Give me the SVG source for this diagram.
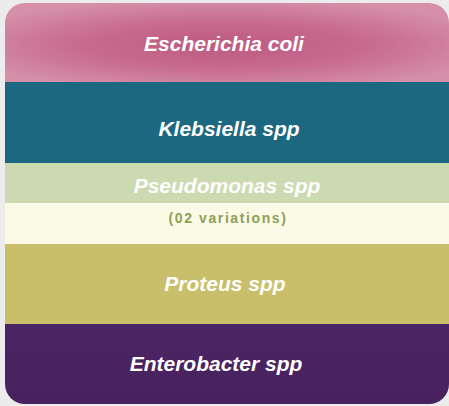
<svg xmlns="http://www.w3.org/2000/svg" width="449" height="406" viewBox="0 0 449 406">
<defs>
<clipPath id="card"><rect x="5" y="3" width="444" height="401" rx="20" ry="20"/></clipPath>
<radialGradient id="pink" cx="0.5" cy="0.55" r="0.62" gradientTransform="translate(0.5 0.55) scale(1 0.9) translate(-0.5 -0.55)">
<stop offset="0" stop-color="#bd5a80"/>
<stop offset="0.5" stop-color="#c76a8e"/>
<stop offset="1" stop-color="#d58fa9"/>
</radialGradient>
<linearGradient id="purp" x1="0" y1="0" x2="0" y2="1">
<stop offset="0" stop-color="#4b2463"/>
<stop offset="1" stop-color="#48225f"/>
</linearGradient>
</defs>
<style>
.t{font-family:"Liberation Sans",Arial,sans-serif;font-weight:bold;font-style:italic;font-size:21px;fill:#ffffff;text-anchor:middle}
.s{font-family:"Liberation Sans",Arial,sans-serif;font-weight:bold;font-size:14px;fill:#8fa058;text-anchor:middle;letter-spacing:1.6px}
</style>
<rect width="449" height="406" fill="#ececec"/>
<g clip-path="url(#card)">
<g id="escherichia">
<rect x="0" y="0" width="449" height="82" fill="url(#pink)"/>
<text class="t" x="224" y="51">Escherichia coli</text>
</g>
<g id="klebsiella">
<rect x="0" y="82" width="449" height="81" fill="#1b6880"/>
<text class="t" x="229" y="136">Klebsiella spp</text>
</g>
<g id="pseudomonas">
<rect x="0" y="163" width="449" height="40" fill="#ccdab1"/>
<text class="t" x="227" y="193">Pseudomonas spp</text>
</g>
<g id="variations">
<rect x="0" y="203" width="449" height="41" fill="#fafae6"/>
<text class="s" x="228" y="223">(02 variations)</text>
</g>
<g id="proteus">
<rect x="0" y="244" width="449" height="80" fill="#c9be6a"/>
<text class="t" x="225" y="291">Proteus spp</text>
</g>
<g id="enterobacter">
<rect x="0" y="324" width="449" height="82" fill="url(#purp)"/>
<text class="t" x="216" y="371">Enterobacter spp</text>
</g>
</g>
</svg>
